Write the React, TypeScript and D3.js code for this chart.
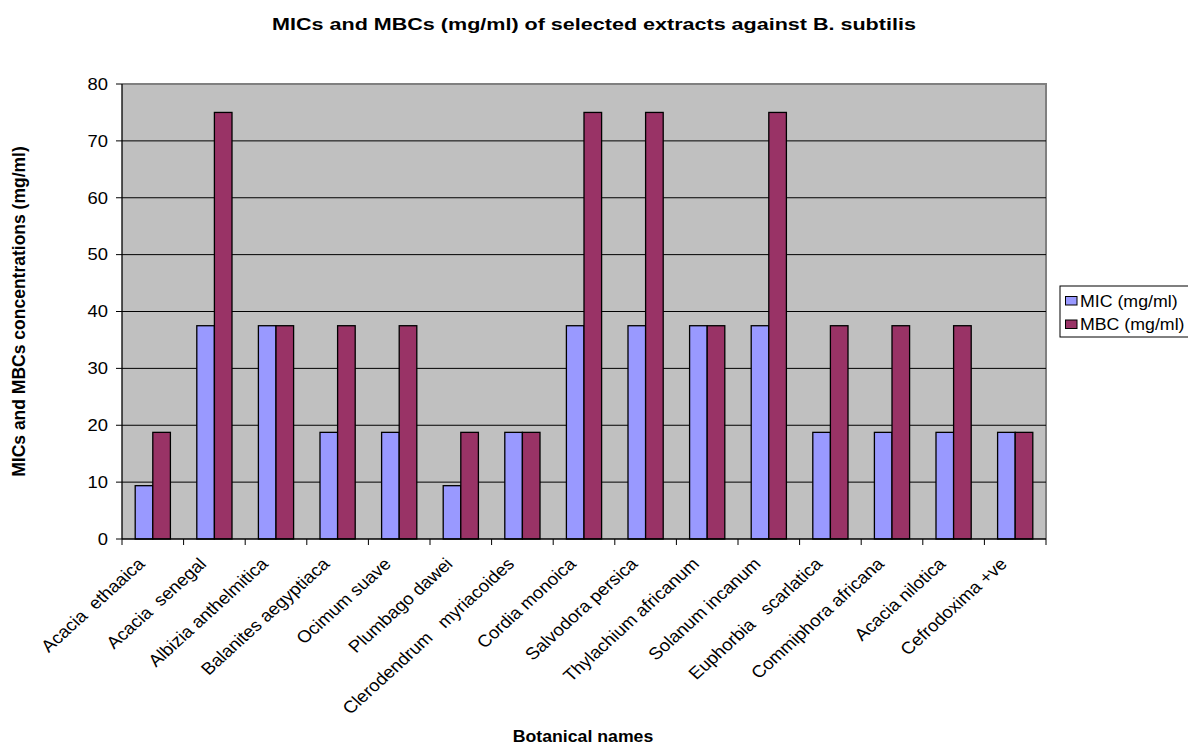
import React from "react";
import * as d3 from "d3";

const categories = [
  "Acacia  ethaaica",
  "Acacia  senegal",
  "Albizia anthelmitica",
  "Balanites aegyptiaca",
  "Ocimum suave",
  "Plumbago dawei",
  "Clerodendrum   myriacoides",
  "Cordia monoica",
  "Salvodora persica",
  "Thylachium africanum",
  "Solanum incanum",
  "Euphorbia   scarlatica",
  "Commiphora africana",
  "Acacia nilotica",
  "Cefrodoxima +ve",
];
const micValues = [9.375, 37.5, 37.5, 18.75, 18.75, 9.375, 18.75, 37.5, 37.5, 37.5, 37.5, 18.75, 18.75, 18.75, 18.75];
const mbcValues = [18.75, 75, 37.5, 37.5, 37.5, 18.75, 18.75, 75, 75, 37.5, 75, 37.5, 37.5, 37.5, 18.75];
const seriesNames = ["MIC (mg/ml)", "MBC (mg/ml)"];
const seriesColors = ["#9999FF", "#993366"];
const yTicks = [0, 10, 20, 30, 40, 50, 60, 70, 80];

const W = 1188;
const H = 745;
const plot = { left: 122, right: 1046, top: 84, bottom: 539 };
const font = "'Liberation Sans', Arial, sans-serif";

export default function App() {
  const x = d3
    .scaleBand<string>()
    .domain(categories)
    .range([plot.left, plot.right])
    .paddingInner(0)
    .paddingOuter(0);
  const y = d3.scaleLinear().domain([0, 80]).range([plot.bottom, plot.top]);
  const bw = x.bandwidth();
  const barW = bw / 3.5;
  const sub = d3
    .scaleBand<number>()
    .domain([0, 1])
    .range([(bw * 0.75) / 3.5, (bw * 0.75) / 3.5 + 2 * barW]);
  const series = [micValues, mbcValues];

  return (
    <svg
      width={W}
      height={H}
      style={{ position: "absolute", left: 0, top: 0, background: "#fff" }}
      fontFamily={font}
    >
      <text
        transform="translate(594,29.5) scale(1.29,1)"
        textAnchor="middle"
        fontSize={16.7}
        fontWeight="bold"
      >
        MICs and MBCs (mg/ml) of selected extracts against B. subtilis
      </text>

      {/* plot area */}
      <rect
        x={plot.left}
        y={plot.top}
        width={plot.right - plot.left}
        height={plot.bottom - plot.top}
        fill="#C0C0C0"
      />
      <path
        d={`M${plot.left},${plot.top}H${plot.right}V${plot.bottom}`}
        fill="none"
        stroke="#808080"
        strokeWidth={2}
      />
      {yTicks.slice(1, -1).map((t) => (
        <line
          key={t}
          x1={plot.left}
          x2={plot.right}
          y1={y(t)}
          y2={y(t)}
          stroke="#000"
          strokeWidth={1}
        />
      ))}

      {/* bars */}
      {categories.map((c, i) =>
        series.map((vals, s) => (
          <rect
            key={c + s}
            x={(x(c) as number) + (sub(s) as number)}
            y={y(vals[i])}
            width={barW}
            height={y(0) - y(vals[i])}
            fill={seriesColors[s]}
            stroke="#000"
            strokeWidth={1.3}
          />
        ))
      )}

      {/* axes */}
      <line x1={plot.left} x2={plot.left} y1={plot.top} y2={plot.bottom} stroke="#000" strokeWidth={1.3} />
      <line x1={plot.left} x2={plot.right} y1={plot.bottom} y2={plot.bottom} stroke="#000" strokeWidth={1.3} />
      {yTicks.map((t) => (
        <g key={t}>
          <line x1={plot.left - 6} x2={plot.left} y1={y(t)} y2={y(t)} stroke="#000" />
          <text
            transform={`translate(108,${y(t)}) scale(1.15,1)`}
            dy="0.36em"
            textAnchor="end"
            fontSize={16}
          >
            {t}
          </text>
        </g>
      ))}
      {categories.map((c) => (
        <line
          key={"t" + c}
          x1={x(c) as number}
          x2={x(c) as number}
          y1={plot.bottom}
          y2={plot.bottom + 6}
          stroke="#000"
        />
      ))}
      <line x1={plot.right} x2={plot.right} y1={plot.bottom} y2={plot.bottom + 6} stroke="#000" />
      {categories.map((c) => {
        const cx = (x(c) as number) + bw / 2;
        return (
          <text
            key={"l" + c}
            transform={`translate(${cx - 7},${plot.bottom + 26}) scale(1.1,1) rotate(-45)`}
            textAnchor="end"
            fontSize={17}
            style={{ whiteSpace: "pre" }}
          >
            {c}
          </text>
        );
      })}

      <text
        transform={`translate(25,${(plot.top + plot.bottom) / 2}) rotate(-90)`}
        textAnchor="middle"
        fontSize={17.5}
        fontWeight="bold"
      >
        MICs and MBCs concentrations (mg/ml)
      </text>
      <text
        transform="translate(583,742) scale(1.12,1)"
        textAnchor="middle"
        fontSize={15.8}
        fontWeight="bold"
      >
        Botanical names
      </text>

      {/* legend */}
      <rect x={1060} y={286} width={140} height={51} fill="#fff" stroke="#000" strokeWidth={1} />
      {seriesNames.map((n, i) => (
        <g key={n}>
          <rect
            x={1065.5}
            y={296.5 + i * 23.5}
            width={11.5}
            height={8.5}
            fill={seriesColors[i]}
            stroke="#000"
            strokeWidth={1}
          />
          <text
            transform={`translate(1080,${301 + i * 23.5}) scale(1.09,1)`}
            dy="0.36em"
            fontSize={16.3}
          >
            {n}
          </text>
        </g>
      ))}
    </svg>
  );
}
